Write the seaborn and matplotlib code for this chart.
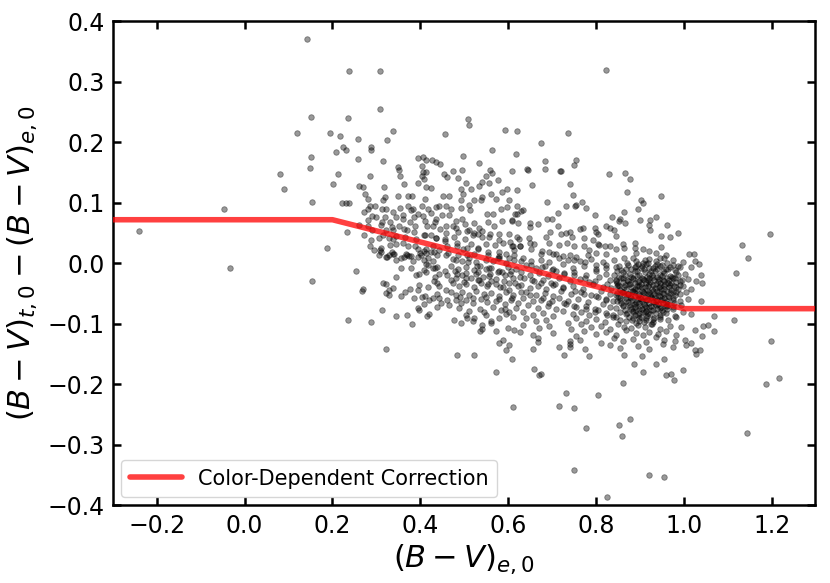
import numpy as np
import pandas as pd
import matplotlib
matplotlib.use('Agg')
import matplotlib.pyplot as plt
import seaborn as sns

# correction curve (piecewise)
corr_x = [-0.3, 0.2, 1.0, 1.3]
corr_y = [0.072, 0.072, -0.075, -0.075]

# scatter points, grouped by region: (B-V)e0, delta
outer_pts = [
    (-0.241, 0.054), (-0.048, 0.090), (-0.034, -0.007), (0.141, 0.370), (0.151, 0.242),
    (0.119, 0.216), (0.194, 0.215), (0.217, 0.211), (0.224, 0.192), (0.230, 0.187),
    (0.209, 0.184), (0.151, 0.175), (0.150, 0.157), (0.081, 0.148), (0.212, 0.147),
    (0.201, 0.131), (0.090, 0.122), (0.154, 0.102), (0.221, 0.099), (0.232, 0.099),
    (0.237, 0.318), (0.236, 0.240), (0.233, 0.052), (0.187, 0.025), (0.309, 0.317),
    (0.238, 0.100), (0.823, 0.319),
    (0.154, -0.029), (0.236, -0.094), (0.287, -0.097), (0.322, -0.142), (0.253, -0.012),
    (0.268, -0.046), (0.270, -0.043), (0.313, -0.077), (0.344, -0.087), (0.369, -0.085),
    (0.382, -0.100), (0.416, -0.087), (0.419, -0.084), (0.476, -0.094), (0.492, -0.098),
    (0.483, -0.152), (0.522, -0.152), (0.573, -0.179), (0.611, -0.237), (0.608, -0.159),
    (0.589, -0.127), (0.579, -0.131), (0.601, -0.135), (0.595, -0.143), (0.573, -0.112),
    (0.535, -0.112), (0.540, -0.109), (0.541, -0.102), (0.560, -0.095), (0.562, -0.099),
    (0.507, -0.091), (0.519, -0.095), (0.599, -0.107), (0.614, -0.110),
    (0.717, -0.236), (0.751, -0.240), (0.732, -0.215), (0.804, -0.218), (0.861, -0.198),
    (0.878, -0.258), (0.660, -0.175), (0.671, -0.185), (0.674, -0.183), (0.886, -0.166),
    (0.905, -0.154), (0.907, -0.179), (0.937, -0.167), (0.954, -0.159), (0.959, -0.185),
    (0.972, -0.183), (0.978, -0.193), (0.998, -0.176), (0.865, -0.152), (0.784, -0.153),
    (0.776, -0.141), (0.728, -0.152), (0.740, -0.138), (0.742, -0.134), (0.715, -0.139),
    (0.656, -0.141), (0.668, -0.130), (1.025, -0.143), (1.036, -0.143), (1.029, -0.150),
    (1.006, -0.135), (1.017, -0.132), (1.002, -0.127), (1.025, -0.110), (1.042, -0.120),
    (1.044, -0.104), (1.055, -0.102), (1.068, -0.087), (1.069, -0.112), (1.040, -0.063),
    (1.039, -0.019), (1.029, -0.030), (1.042, -0.033), (1.017, -0.006), (1.025, 0.003),
    (1.035, -0.001), (1.013, 0.016), (1.023, 0.016),
    (1.197, 0.049), (1.133, 0.030), (1.147, 0.008), (1.118, -0.016), (1.114, -0.094),
    (1.198, -0.128), (1.187, -0.200), (1.216, -0.190),
    (0.778, -0.273), (0.852, -0.268), (0.860, -0.285), (1.145, -0.281), (0.751, -0.341),
    (0.922, -0.350), (0.956, -0.353), (0.826, -0.386),
]

upper_left_pts = [
    (0.308, 0.255), (0.339, 0.219), (0.258, 0.205), (0.325, 0.203), (0.287, 0.193),
    (0.288, 0.187), (0.259, 0.172), (0.316, 0.169), (0.285, 0.145), (0.508, 0.239),
    (0.510, 0.228), (0.457, 0.213), (0.593, 0.220), (0.620, 0.219), (0.563, 0.187),
    (0.618, 0.181), (0.497, 0.177), (0.533, 0.166), (0.394, 0.174), (0.407, 0.175),
    (0.413, 0.170), (0.426, 0.171), (0.436, 0.168), (0.445, 0.164), (0.350, 0.159),
    (0.351, 0.155), (0.403, 0.160), (0.407, 0.151), (0.414, 0.151), (0.404, 0.144),
    (0.409, 0.139), (0.354, 0.144), (0.363, 0.131), (0.394, 0.132), (0.413, 0.126),
    (0.424, 0.125), (0.453, 0.147), (0.461, 0.142), (0.475, 0.153), (0.495, 0.155),
    (0.487, 0.141), (0.504, 0.132), (0.493, 0.123), (0.497, 0.115), (0.516, 0.123),
    (0.534, 0.128), (0.540, 0.135), (0.550, 0.144), (0.558, 0.154), (0.563, 0.149),
    (0.557, 0.132), (0.578, 0.138), (0.585, 0.117), (0.597, 0.123), (0.610, 0.153),
    (0.261, 0.128), (0.270, 0.126), (0.275, 0.114), (0.281, 0.106), (0.318, 0.126),
    (0.319, 0.110), (0.316, 0.104), (0.350, 0.112), (0.372, 0.111), (0.382, 0.111),
    (0.411, 0.106), (0.451, 0.111), (0.466, 0.111), (0.492, 0.105), (0.512, 0.096),
    (0.540, 0.109), (0.560, 0.115), (0.573, 0.106), (0.601, 0.105), (0.621, 0.121),
    (0.285, 0.094), (0.280, 0.090), (0.297, 0.095), (0.322, 0.090), (0.354, 0.091),
    (0.373, 0.094), (0.379, 0.088), (0.384, 0.090), (0.404, 0.095), (0.417, 0.090),
    (0.435, 0.093), (0.442, 0.095), (0.458, 0.094), (0.471, 0.090), (0.492, 0.091),
    (0.514, 0.088), (0.523, 0.104), (0.539, 0.105), (0.551, 0.082), (0.566, 0.082),
    (0.583, 0.090), (0.598, 0.093), (0.616, 0.081), (0.273, 0.084), (0.290, 0.078),
    (0.300, 0.077), (0.280, 0.072), (0.319, 0.077), (0.332, 0.069), (0.344, 0.077),
    (0.361, 0.073), (0.377, 0.069), (0.394, 0.082), (0.406, 0.078), (0.424, 0.083),
    (0.436, 0.074), (0.449, 0.079), (0.465, 0.079), (0.481, 0.070), (0.496, 0.074),
    (0.503, 0.065), (0.523, 0.067), (0.533, 0.059), (0.554, 0.069), (0.569, 0.062),
    (0.586, 0.070), (0.608, 0.070), (0.623, 0.066), (0.261, 0.063), (0.282, 0.061),
    (0.291, 0.055), (0.310, 0.063), (0.323, 0.055), (0.337, 0.055), (0.352, 0.061),
    (0.369, 0.055), (0.388, 0.061), (0.415, 0.061), (0.430, 0.062), (0.445, 0.057),
    (0.458, 0.050), (0.474, 0.061), (0.487, 0.051), (0.512, 0.055), (0.523, 0.050),
    (0.540, 0.054), (0.559, 0.048), (0.579, 0.048), (0.603, 0.048), (0.272, 0.046),
    (0.287, 0.039), (0.306, 0.042), (0.328, 0.042), (0.344, 0.045), (0.365, 0.044),
    (0.390, 0.040), (0.409, 0.047), (0.424, 0.046), (0.436, 0.042), (0.457, 0.040),
    (0.477, 0.044), (0.502, 0.040), (0.521, 0.046), (0.540, 0.044), (0.550, 0.032),
    (0.570, 0.030), (0.589, 0.033), (0.608, 0.029), (0.621, 0.043), (0.286, 0.028),
    (0.309, 0.022), (0.331, 0.031), (0.344, 0.032), (0.372, 0.029), (0.394, 0.023),
    (0.413, 0.023), (0.428, 0.028), (0.443, 0.022), (0.462, 0.028), (0.483, 0.029),
    (0.498, 0.024), (0.515, 0.032), (0.532, 0.026), (0.580, 0.018), (0.595, 0.016),
    (0.614, 0.014), (0.295, 0.022), (0.305, 0.014), (0.323, 0.011), (0.339, 0.015),
    (0.367, 0.015), (0.379, 0.012), (0.400, 0.017), (0.417, 0.008), (0.439, 0.013),
    (0.464, 0.017), (0.486, 0.014), (0.506, 0.014), (0.523, 0.015), (0.554, 0.014),
    (0.577, 0.008),
]

upper_right_pts = [
    (0.736, 0.215), (0.674, 0.199), (0.685, 0.169), (0.755, 0.170), (0.750, 0.163),
    (0.643, 0.156), (0.645, 0.154), (0.685, 0.156), (0.721, 0.152), (0.719, 0.153),
    (0.829, 0.147), (0.866, 0.150), (0.878, 0.140), (0.655, 0.129), (0.741, 0.131),
    (0.871, 0.118), (0.747, 0.113), (0.689, 0.101), (0.768, 0.102), (0.753, 0.094),
    (0.755, 0.097), (0.777, 0.091), (0.731, 0.094), (0.620, 0.094), (0.633, 0.088),
    (0.630, 0.086), (0.620, 0.082), (0.714, 0.083), (0.902, 0.105), (0.907, 0.099),
    (0.896, 0.090), (0.948, 0.112), (0.798, 0.079), (0.688, 0.073), (0.699, 0.074),
    (0.668, 0.065), (0.649, 0.066), (0.650, 0.060), (0.609, 0.071), (0.713, 0.061),
    (0.695, 0.052), (0.836, 0.076), (0.852, 0.070), (0.855, 0.073), (0.867, 0.066),
    (0.865, 0.084), (0.900, 0.072), (0.924, 0.072), (0.922, 0.063), (0.924, 0.055),
    (0.937, 0.077), (0.962, 0.064), (0.948, 0.045), (0.968, 0.044), (0.988, 0.050),
    (0.763, 0.057), (0.770, 0.059), (0.797, 0.059), (0.801, 0.052), (0.804, 0.049),
    (0.823, 0.062), (0.831, 0.059), (0.841, 0.055), (0.845, 0.045), (0.721, 0.048),
    (0.732, 0.050), (0.740, 0.051), (0.746, 0.043), (0.772, 0.041), (0.793, 0.039),
    (0.804, 0.032), (0.687, 0.044), (0.693, 0.034), (0.647, 0.041), (0.650, 0.034),
    (0.658, 0.032), (0.624, 0.040), (0.626, 0.029), (0.611, 0.029), (0.614, 0.022),
    (0.717, 0.031), (0.734, 0.034), (0.749, 0.029), (0.772, 0.028), (0.785, 0.022),
    (0.808, 0.030), (0.820, 0.028), (0.831, 0.028), (0.846, 0.023), (0.861, 0.032),
    (0.865, 0.026), (0.890, 0.033), (0.888, 0.025), (0.892, 0.017), (0.907, 0.023),
    (0.922, 0.021), (0.937, 0.017), (0.949, 0.027), (0.960, 0.014), (0.675, 0.016),
    (0.694, 0.018), (0.709, 0.016), (0.740, 0.014), (0.755, 0.011), (0.782, 0.014),
    (0.801, 0.017), (0.823, 0.015),
]

mid_band_pts = [
    (0.314, -0.033), (0.323, -0.035), (0.339, -0.041), (0.328, -0.044), (0.322, -0.049),
    (0.329, -0.052), (0.344, -0.022), (0.356, -0.007), (0.356, -0.054), (0.366, -0.047),
    (0.376, -0.042), (0.385, -0.058), (0.394, -0.074), (0.396, -0.077), (0.396, -0.036),
    (0.394, -0.044), (0.409, -0.067), (0.403, -0.055), (0.411, -0.054), (0.420, -0.061),
    (0.428, -0.057), (0.417, -0.039), (0.432, -0.030), (0.437, -0.033), (0.443, -0.038),
    (0.434, -0.022), (0.442, -0.018), (0.390, -0.019), (0.398, -0.017), (0.379, -0.008),
    (0.356, 0.009), (0.344, 0.005), (0.325, 0.011), (0.329, 0.014), (0.340, 0.015),
    (0.310, 0.018), (0.369, 0.014), (0.375, 0.012), (0.394, 0.011), (0.401, 0.014),
    (0.413, 0.017), (0.424, 0.019), (0.409, 0.005), (0.417, -0.003), (0.428, 0.003),
    (0.428, -0.008), (0.439, -0.006), (0.409, -0.011), (0.413, -0.014), (0.439, -0.050),
    (0.442, -0.058), (0.447, -0.066), (0.438, -0.073), (0.459, -0.044), (0.462, -0.061),
    (0.466, -0.069),
    (0.474, 0.007), (0.496, 0.003), (0.512, 0.008), (0.527, 0.002), (0.550, 0.006),
    (0.565, 0.004), (0.580, 0.009), (0.596, 0.001), (0.614, 0.005),
    (0.470, -0.005), (0.485, -0.010), (0.504, -0.006), (0.523, -0.011), (0.535, -0.004),
    (0.550, -0.009), (0.561, -0.007), (0.580, -0.012), (0.599, -0.006), (0.618, -0.010),
    (0.462, -0.019), (0.481, -0.024), (0.496, -0.020), (0.516, -0.025), (0.527, -0.018),
    (0.542, -0.023), (0.557, -0.021), (0.573, -0.026), (0.592, -0.019), (0.611, -0.024),
    (0.474, -0.033), (0.489, -0.038), (0.504, -0.034), (0.523, -0.039), (0.538, -0.032),
    (0.553, -0.037), (0.573, -0.035), (0.588, -0.040), (0.603, -0.033), (0.622, -0.038),
    (0.470, -0.047), (0.481, -0.052), (0.496, -0.048), (0.512, -0.053), (0.527, -0.046),
    (0.546, -0.051), (0.561, -0.049), (0.580, -0.054), (0.596, -0.047), (0.611, -0.052),
    (0.481, -0.060), (0.493, -0.065), (0.504, -0.061), (0.519, -0.066), (0.538, -0.059),
    (0.553, -0.064), (0.573, -0.062), (0.592, -0.067), (0.607, -0.060), (0.622, -0.065),
    (0.489, -0.074), (0.512, -0.079), (0.535, -0.075), (0.546, -0.080), (0.565, -0.073),
    (0.584, -0.078), (0.592, -0.076), (0.603, -0.081), (0.618, -0.074),
    (0.504, -0.085), (0.523, -0.090), (0.550, -0.086), (0.580, -0.091), (0.596, -0.084),
    (0.611, -0.089),
    (0.478, -0.013), (0.505, -0.016), (0.531, -0.014), (0.558, -0.017), (0.585, -0.015),
    (0.607, -0.012), (0.470, -0.028), (0.500, -0.031), (0.531, -0.027), (0.561, -0.030),
    (0.590, -0.029), (0.615, -0.032), (0.490, -0.056), (0.520, -0.058), (0.550, -0.055),
    (0.580, -0.059), (0.610, -0.057),
]

# extra points along the correction line, where the reference is densest
line_band_pts = [
    (0.312, 0.090), (0.312, 0.068), (0.314, 0.047), (0.311, 0.025),
    (0.337, 0.085), (0.336, 0.060), (0.338, 0.040), (0.335, 0.018),
    (0.361, 0.079), (0.362, 0.057), (0.360, 0.034), (0.363, 0.010),
    (0.386, 0.077), (0.385, 0.052), (0.387, 0.028), (0.384, 0.004),
    (0.410, 0.070), (0.411, 0.047), (0.409, 0.021), (0.412, -0.002),
    (0.433, 0.068), (0.435, 0.041), (0.432, 0.018), (0.434, -0.008),
    (0.458, 0.062), (0.457, 0.037), (0.459, 0.013), (0.456, -0.013),
    (0.482, 0.058), (0.483, 0.033), (0.481, 0.006), (0.484, -0.017),
    (0.507, 0.053), (0.506, 0.026), (0.508, 0.002), (0.505, -0.024),
    (0.531, 0.049), (0.532, 0.023), (0.530, -0.004), (0.533, -0.028),
    (0.556, 0.044), (0.555, 0.018), (0.557, -0.007), (0.554, -0.034),
    (0.579, 0.038), (0.580, 0.012), (0.578, -0.014), (0.581, -0.039),
    (0.604, 0.035), (0.603, 0.008), (0.605, -0.017), (0.602, -0.044),
    (0.628, 0.029), (0.629, 0.003), (0.627, -0.022), (0.630, -0.048),
    (0.653, 0.024), (0.652, -0.003), (0.654, -0.027), (0.651, -0.053),
    (0.677, 0.021), (0.678, -0.006), (0.676, -0.032), (0.679, -0.058),
    (0.702, 0.015), (0.701, -0.011), (0.703, -0.036), (0.700, -0.062),
    (0.726, 0.012), (0.727, -0.016), (0.725, -0.041), (0.728, -0.066),
    (0.751, 0.006), (0.750, -0.020), (0.752, -0.045), (0.749, -0.071),
    (0.775, 0.002), (0.776, -0.025), (0.774, -0.050), (0.777, -0.075),
    (0.800, -0.003), (0.799, -0.030), (0.801, -0.054), (0.798, -0.080),
    (0.824, -0.007), (0.825, -0.034), (0.823, -0.059), (0.826, -0.085),
    (0.848, -0.012), (0.847, -0.038), (0.849, -0.063), (0.846, -0.089),
]

clump_pts = [
    (0.633, 0.009), (0.652, 0.004), (0.675, 0.006), (0.694, 0.002), (0.717, 0.008),
    (0.736, 0.005), (0.763, 0.003), (0.789, 0.007), (0.816, 0.002), (0.842, 0.006),
    (0.865, 0.009), (0.892, 0.004), (0.907, 0.001), (0.922, 0.007), (0.937, 0.003),
    (0.956, 0.008), (0.975, 0.005), (0.998, 0.002),
    (0.641, -0.003), (0.664, -0.008), (0.683, -0.004), (0.702, -0.009), (0.725, -0.002),
    (0.747, -0.007), (0.774, -0.005), (0.801, -0.010), (0.823, -0.003), (0.846, -0.006),
    (0.869, -0.009), (0.892, -0.004), (0.903, -0.007), (0.915, -0.002), (0.930, -0.008),
    (0.945, -0.005), (0.960, -0.010), (0.975, -0.003), (0.991, -0.006),
    (0.630, -0.014), (0.649, -0.019), (0.671, -0.016), (0.690, -0.021), (0.709, -0.013),
    (0.728, -0.018), (0.751, -0.015), (0.778, -0.020), (0.801, -0.012), (0.823, -0.017),
    (0.842, -0.019), (0.861, -0.014), (0.877, -0.018), (0.888, -0.013), (0.899, -0.020),
    (0.911, -0.015), (0.922, -0.017), (0.934, -0.012), (0.945, -0.019), (0.956, -0.016),
    (0.968, -0.021), (0.983, -0.014), (1.002, -0.018),
    (0.637, -0.025), (0.660, -0.030), (0.679, -0.027), (0.698, -0.032), (0.717, -0.024),
    (0.740, -0.029), (0.763, -0.026), (0.785, -0.031), (0.808, -0.023), (0.831, -0.028),
    (0.846, -0.030), (0.861, -0.025), (0.873, -0.029), (0.884, -0.024), (0.896, -0.031),
    (0.907, -0.026), (0.918, -0.028), (0.930, -0.023), (0.941, -0.030), (0.953, -0.027),
    (0.964, -0.032), (0.975, -0.025), (0.991, -0.029), (1.010, -0.026),
    (0.630, -0.036), (0.649, -0.041), (0.668, -0.038), (0.687, -0.043), (0.706, -0.035),
    (0.725, -0.040), (0.747, -0.037), (0.770, -0.042), (0.793, -0.034), (0.816, -0.039),
    (0.835, -0.041), (0.850, -0.036), (0.865, -0.040), (0.877, -0.035), (0.888, -0.042),
    (0.899, -0.037), (0.911, -0.039), (0.922, -0.034), (0.934, -0.041), (0.945, -0.038),
    (0.956, -0.043), (0.968, -0.036), (0.983, -0.040), (0.998, -0.037), (1.017, -0.042),
    (0.641, -0.047), (0.664, -0.052), (0.683, -0.049), (0.702, -0.054), (0.721, -0.046),
    (0.744, -0.051), (0.766, -0.048), (0.789, -0.053), (0.812, -0.045), (0.831, -0.050),
    (0.846, -0.052), (0.861, -0.047), (0.873, -0.051), (0.884, -0.046), (0.896, -0.053),
    (0.907, -0.048), (0.918, -0.050), (0.930, -0.045), (0.941, -0.052), (0.953, -0.049),
    (0.964, -0.054), (0.975, -0.047), (0.991, -0.051), (1.006, -0.048),
    (0.633, -0.058), (0.656, -0.063), (0.675, -0.060), (0.694, -0.065), (0.717, -0.057),
    (0.736, -0.062), (0.759, -0.059), (0.782, -0.064), (0.804, -0.056), (0.823, -0.061),
    (0.839, -0.063), (0.854, -0.058), (0.869, -0.062), (0.880, -0.057), (0.892, -0.064),
    (0.903, -0.059), (0.915, -0.061), (0.926, -0.056), (0.937, -0.063), (0.949, -0.060),
    (0.960, -0.065), (0.975, -0.058), (0.991, -0.062), (1.010, -0.059),
    (0.645, -0.069), (0.668, -0.074), (0.690, -0.071), (0.709, -0.076), (0.732, -0.068),
    (0.755, -0.073), (0.778, -0.070), (0.797, -0.075), (0.816, -0.067), (0.831, -0.072),
    (0.846, -0.074), (0.861, -0.069), (0.877, -0.073), (0.888, -0.068), (0.899, -0.075),
    (0.911, -0.070), (0.922, -0.072), (0.934, -0.067), (0.945, -0.074), (0.960, -0.071),
    (0.975, -0.076), (0.994, -0.069),
    (0.633, -0.080), (0.656, -0.085), (0.679, -0.082), (0.702, -0.087), (0.725, -0.079),
    (0.747, -0.084), (0.766, -0.081), (0.785, -0.086), (0.804, -0.078), (0.823, -0.083),
    (0.839, -0.085), (0.854, -0.080), (0.869, -0.084), (0.884, -0.079), (0.896, -0.086),
    (0.907, -0.081), (0.918, -0.083), (0.930, -0.078), (0.945, -0.085), (0.960, -0.082),
    (0.979, -0.087), (0.998, -0.080), (1.017, -0.084),
    (0.641, -0.091), (0.664, -0.096), (0.687, -0.093), (0.736, -0.098), (0.755, -0.090),
    (0.778, -0.095), (0.801, -0.092), (0.820, -0.097), (0.839, -0.089), (0.854, -0.094),
    (0.869, -0.096), (0.884, -0.091), (0.899, -0.095), (0.915, -0.090), (0.930, -0.097),
    (0.945, -0.092), (0.964, -0.094), (0.983, -0.089),
    (0.633, -0.102), (0.671, -0.107), (0.694, -0.104), (0.744, -0.109), (0.766, -0.101),
    (0.789, -0.106), (0.812, -0.103), (0.831, -0.108), (0.850, -0.100), (0.865, -0.105),
    (0.880, -0.107), (0.896, -0.102), (0.911, -0.106), (0.926, -0.101), (0.945, -0.108),
    (0.968, -0.103), (0.994, -0.105),
    (0.626, -0.113), (0.656, -0.118), (0.702, -0.115), (0.755, -0.120), (0.774, -0.112),
    (0.801, -0.117), (0.823, -0.114), (0.846, -0.119), (0.869, -0.111), (0.892, -0.116),
    (0.907, -0.118), (0.922, -0.113), (0.941, -0.117), (0.960, -0.112), (0.983, -0.119),
    (0.668, -0.124), (0.740, -0.129), (0.763, -0.126), (0.812, -0.131), (0.842, -0.123),
    (0.861, -0.128), (0.884, -0.125), (0.915, -0.130), (0.937, -0.122), (0.956, -0.127),
    (0.979, -0.129),
    (0.831, -0.135), (0.854, -0.140), (0.896, -0.137), (0.922, -0.142), (0.953, -0.134),
    (0.975, -0.139),
]

core_pts = [
    (0.870, 0.000), (0.895, -0.002), (0.918, 0.001), (0.940, -0.001), (0.962, 0.000),
    (0.858, -0.011), (0.880, -0.009), (0.894, -0.012), (0.909, -0.010), (0.926, -0.013),
    (0.940, -0.010), (0.952, -0.012), (0.965, -0.009), (0.980, -0.011),
    (0.852, -0.022), (0.866, -0.020), (0.881, -0.023), (0.893, -0.021), (0.905, -0.024),
    (0.917, -0.022), (0.928, -0.020), (0.939, -0.023), (0.950, -0.021), (0.962, -0.024),
    (0.974, -0.022), (0.987, -0.020),
    (0.848, -0.033), (0.862, -0.031), (0.876, -0.034), (0.889, -0.032), (0.902, -0.035),
    (0.913, -0.033), (0.924, -0.031), (0.936, -0.034), (0.947, -0.032), (0.958, -0.035),
    (0.970, -0.033), (0.982, -0.031),
    (0.855, -0.044), (0.869, -0.042), (0.882, -0.045), (0.894, -0.043), (0.905, -0.046),
    (0.916, -0.044), (0.927, -0.042), (0.938, -0.045), (0.949, -0.043), (0.961, -0.046),
    (0.972, -0.044), (0.986, -0.042),
    (0.850, -0.055), (0.864, -0.053), (0.878, -0.056), (0.890, -0.054), (0.901, -0.057),
    (0.912, -0.055), (0.923, -0.053), (0.934, -0.056), (0.945, -0.054), (0.956, -0.057),
    (0.967, -0.055), (0.980, -0.053),
    (0.858, -0.066), (0.872, -0.064), (0.886, -0.067), (0.897, -0.065), (0.909, -0.068),
    (0.920, -0.066), (0.931, -0.064), (0.942, -0.067), (0.953, -0.065), (0.965, -0.068),
    (0.978, -0.066),
    (0.866, -0.077), (0.880, -0.075), (0.892, -0.078), (0.904, -0.076), (0.915, -0.079),
    (0.926, -0.077), (0.938, -0.075), (0.950, -0.078), (0.962, -0.076),
    (0.875, -0.088), (0.890, -0.086), (0.903, -0.089), (0.917, -0.087), (0.932, -0.090),
    (0.947, -0.088), (0.892, -0.099), (0.910, -0.097), (0.928, -0.100),
    # second layer for the darkest part of the clump
    (0.885, 0.008), (0.912, 0.006), (0.945, 0.009),
    (0.852, -0.005), (0.873, -0.003), (0.888, -0.006), (0.905, -0.004), (0.921, -0.007),
    (0.935, -0.005), (0.950, -0.003), (0.968, -0.006), (0.988, -0.004),
    (0.845, -0.027), (0.858, -0.025), (0.871, -0.028), (0.884, -0.026), (0.898, -0.029),
    (0.910, -0.027), (0.921, -0.025), (0.933, -0.028), (0.944, -0.026), (0.955, -0.029),
    (0.967, -0.027), (0.979, -0.025), (0.995, -0.028),
    (0.853, -0.038), (0.867, -0.036), (0.880, -0.039), (0.893, -0.037), (0.906, -0.040),
    (0.919, -0.038), (0.931, -0.036), (0.943, -0.039), (0.954, -0.037), (0.966, -0.040),
    (0.977, -0.038), (0.992, -0.036),
    (0.847, -0.049), (0.860, -0.047), (0.873, -0.050), (0.886, -0.048), (0.898, -0.051),
    (0.910, -0.049), (0.921, -0.047), (0.932, -0.050), (0.943, -0.048), (0.955, -0.051),
    (0.968, -0.049), (0.983, -0.047),
    (0.855, -0.060), (0.868, -0.058), (0.882, -0.061), (0.895, -0.059), (0.906, -0.062),
    (0.917, -0.060), (0.928, -0.058), (0.940, -0.061), (0.951, -0.059), (0.962, -0.062),
    (0.975, -0.060),
    (0.862, -0.071), (0.876, -0.069), (0.889, -0.072), (0.901, -0.070), (0.913, -0.073),
    (0.925, -0.071), (0.936, -0.069), (0.948, -0.072), (0.961, -0.070), (0.975, -0.073),
    (0.870, -0.082), (0.885, -0.080), (0.898, -0.083), (0.911, -0.081), (0.924, -0.084),
    (0.937, -0.082), (0.952, -0.080),
    (0.882, -0.093), (0.899, -0.091), (0.914, -0.094), (0.930, -0.092),
]

groups = [outer_pts, upper_left_pts, upper_right_pts, mid_band_pts,
          line_band_pts, clump_pts, core_pts]
df = pd.DataFrame([p for g in groups for p in g], columns=['bv_e0', 'delta'])

sns.set_style('ticks')
plt.rcParams['font.family'] = ['DejaVu Sans']
plt.rcParams['mathtext.fontset'] = 'dejavusans'
plt.rcParams['axes.edgecolor'] = 'black'
plt.rcParams['xtick.color'] = 'black'
plt.rcParams['ytick.color'] = 'black'
plt.rcParams['axes.labelcolor'] = 'black'
plt.rcParams['text.color'] = 'black'

fig = plt.figure(figsize=(8.3, 5.83), dpi=100)
ax = fig.add_axes([0.136, 0.1333, 0.8465, 0.8302])

sns.scatterplot(data=df, x='bv_e0', y='delta', s=16, color='k', alpha=0.4,
                edgecolor='k', linewidth=0.6, ax=ax, zorder=2, legend=False)
sns.lineplot(x=corr_x, y=corr_y, color='red', alpha=0.75, lw=4, sort=False,
             label='Color-Dependent Correction', ax=ax, zorder=3)

ax.set_xlim(-0.3, 1.3)
ax.set_ylim(-0.4, 0.4)
ax.set_xticks([-0.2, 0.0, 0.2, 0.4, 0.6, 0.8, 1.0, 1.2])
ax.set_yticks([-0.4, -0.3, -0.2, -0.1, 0.0, 0.1, 0.2, 0.3, 0.4])
ax.set_xticklabels([f'{v:.1f}'.replace('-', '\u2212') for v in ax.get_xticks()])
ax.set_yticklabels([f'{v:.1f}'.replace('-', '\u2212') for v in ax.get_yticks()])
ax.tick_params(direction='in', top=True, right=True, length=6, width=1.8,
               labelsize=17, pad=6, colors='black')
for sp in ax.spines.values():
    sp.set_linewidth(1.8)
    sp.set_color('black')

ax.set_xlabel(r'$(B-V)_{e,0}$', fontsize=22, labelpad=4)
ax.set_ylabel(r'$(B-V)_{t,0}-(B-V)_{e,0}$', fontsize=22, labelpad=6)

leg = ax.legend(loc='lower left', fontsize=15, frameon=True, fancybox=True,
                handlelength=2.5, borderaxespad=0.4)
leg.get_frame().set_edgecolor('#cccccc')
leg.get_frame().set_linewidth(1.0)

fig.savefig('out.png', dpi=100)
